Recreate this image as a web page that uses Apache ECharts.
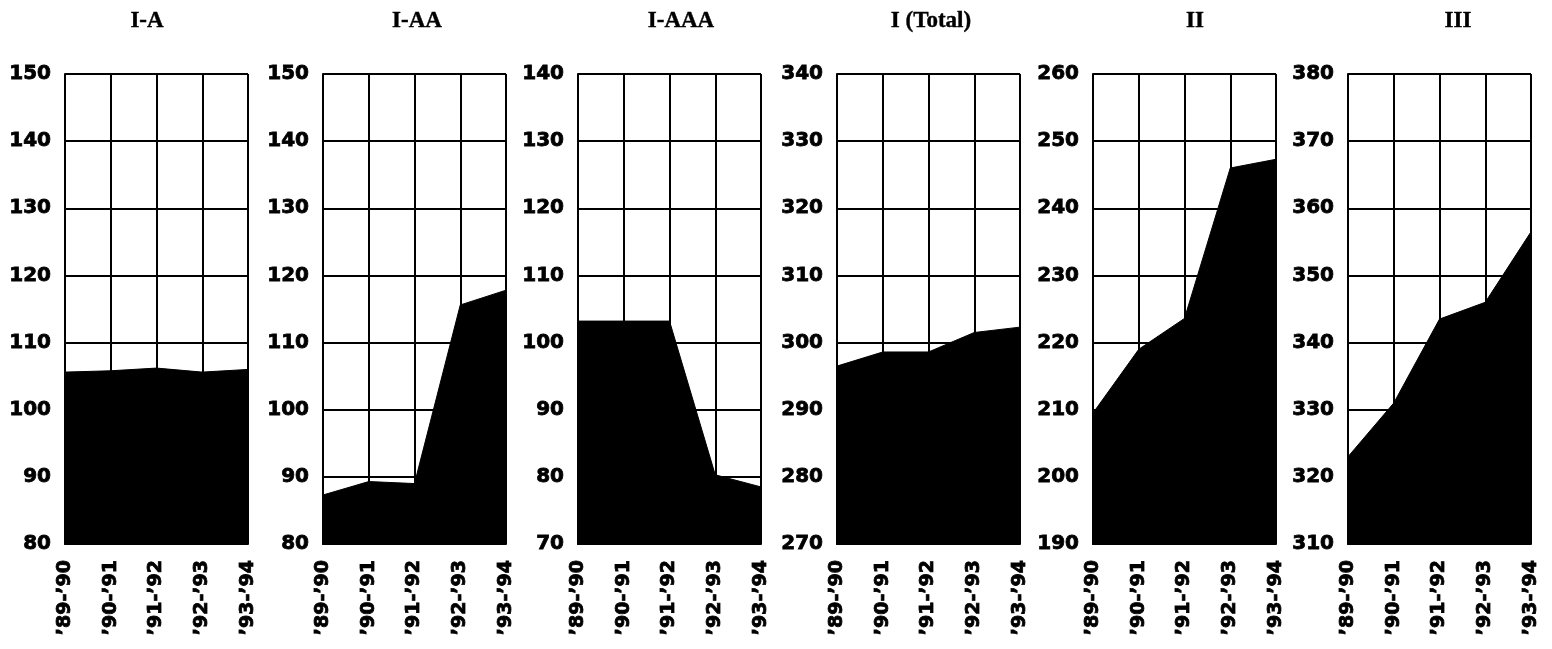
<!DOCTYPE html>
<html>
<head>
<meta charset="utf-8">
<script src="https://cdn.jsdelivr.net/npm/echarts@6/dist/echarts.min.js"></script>
<style>html,body{margin:0;padding:0;background:#fff}#c{width:1552px;height:649px}</style>
</head>
<body>
<div id="c"></div>
<script>
const categories = ["\u201989-\u201990", "\u201990-\u201991", "\u201991-\u201992", "\u201992-\u201993", "\u201993-\u201994"];
const titles = ["I-A", "I-AA", "I-AAA", "I (Total)", "II", "III"];
const seriesIA = [105.6, 105.8, 106.2, 105.6, 106.0];
const seriesIAA = [87.3, 89.3, 89.0, 115.6, 117.8];
const seriesIAAA = [103.2, 103.2, 103.2, 80.3, 78.5];
const seriesITotal = [296.5, 298.6, 298.6, 301.5, 302.3];
const seriesII = [209.5, 219.0, 223.6, 246.0, 247.3];
const seriesIII = [323.0, 331.0, 343.5, 346.0, 356.5];
const yMins = [80, 80, 70, 270, 190, 310];
const yMaxs = [150, 150, 140, 340, 260, 380];
const yInterval = 10;

const allSeries = [seriesIA, seriesIAA, seriesIAAA, seriesITotal, seriesII, seriesIII];
const lefts = [65, 323, 578, 837, 1093, 1348];
const titleX = [142, 412, 676, 926, 1190, 1453];
const gridW = 183;

const chart = echarts.init(document.getElementById('c'));
const option = {
  backgroundColor: '#fff',
  animation: false,
  title: titles.map((t, i) => ({
    text: t, left: titleX[i], top: 5, textAlign: 'center',
    textStyle: { fontFamily: 'Liberation Serif', fontWeight: 'bold', fontSize: 23, color: '#000', textBorderColor: '#000', textBorderWidth: 0.4 }
  })),
  grid: lefts.map(l => ({ left: l, top: 74, width: gridW, height: 470, containLabel: false })),
  xAxis: lefts.map((l, i) => ({
    type: 'category', gridIndex: i, data: categories, boundaryGap: false,
    axisLine: { show: true, lineStyle: { color: '#000', width: 2 } },
    axisTick: { show: false },
    splitLine: { show: true, lineStyle: { color: '#000', width: 2 } },
    axisLabel: { rotate: 90, margin: 16, color: '#000', fontFamily: 'DejaVu Sans', fontWeight: 'bold', fontSize: 19, interval: 0, textBorderColor: '#000', textBorderWidth: 0.8 }
  })),
  yAxis: lefts.map((l, i) => ({
    type: 'value', gridIndex: i, min: yMins[i], max: yMaxs[i], interval: yInterval,
    axisLine: { show: true, lineStyle: { color: '#000', width: 2 } },
    axisTick: { show: false },
    splitLine: { show: true, lineStyle: { color: '#000', width: 2 } },
    axisLabel: { margin: 14, color: '#000', fontFamily: 'DejaVu Sans', fontWeight: 'bold', fontSize: 20, textBorderColor: '#000', textBorderWidth: 0.8 }
  })),
  series: allSeries.map((d, i) => ({
    type: 'line', xAxisIndex: i, yAxisIndex: i, data: d,
    symbol: 'none', lineStyle: { color: '#000', width: 1 },
    areaStyle: { color: '#000', opacity: 1 }
  }))
};
chart.setOption(option);
</script>
</body>
</html>
